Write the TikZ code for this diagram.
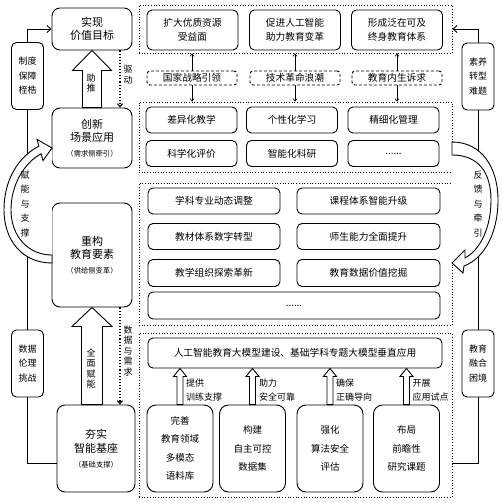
\documentclass[tikz,border=0pt]{standalone}
\usepackage{fontspec}
\setmainfont{Noto Sans CJK SC}
\usetikzlibrary{arrows.meta,calc}
\newcommand{\mysub}{\fontsize{7.3}{9}\selectfont}
\newcommand{\blockup}[5]{%
  \draw[blockarrow] let \p1=(#1), \p2=(#2) in
    (\x2-#3pt,\y1) -- (\x2-#3pt,\y2-#5pt) -- (\x2-#4pt,\y2-#5pt) -- (\x2,\y2)
    -- (\x2+#4pt,\y2-#5pt) -- (\x2+#3pt,\y2-#5pt) -- (\x2+#3pt,\y1) -- cycle;}
\tikzset{
  mainbox/.style={draw, line width=0.9pt, rounded corners=8pt, align=center, inner sep=0pt, font=\fontsize{11}{13.5}\selectfont},
  sidebox/.style={draw, line width=0.9pt, rounded corners=5pt, align=center, inner sep=0pt, font=\fontsize{9}{14.5}\selectfont, minimum width=32, minimum height=67},
  container/.style={draw, dotted, line width=0.7pt, inner sep=0pt},
  itembox/.style={draw, line width=0.9pt, rounded corners=5pt, align=center, inner sep=0pt, font=\fontsize{9.7}{14}\selectfont},
  basebox/.style={draw, line width=0.9pt, rounded corners=9pt, align=center, inner sep=0pt, font=\fontsize{9.5}{18.3}\selectfont, minimum width=66, minimum height=87},
  tagbox/.style={draw, dashed, dash pattern=on 3pt off 2pt, line width=0.9pt, rounded corners=3pt, inner sep=0pt, font=\fontsize{9.7}{11}\selectfont, minimum width=90, minimum height=14},
  vlabel/.style={align=center, inner sep=0pt, font=\fontsize{9}{10.5}\selectfont},
  vlabelwide/.style={align=center, inner sep=0pt, font=\fontsize{9}{14.5}\selectfont},
  alabel/.style={align=left, inner sep=0pt, anchor=west, font=\fontsize{9}{14}\selectfont},
  conn/.style={line width=0.9pt},
  connarrow/.style={line width=0.9pt, -{Straight Barb[length=4pt,width=7pt]}},
  thinarrow/.style={line width=0.6pt, {Straight Barb[length=2.5pt,width=4pt]}-},
  dotarrow/.style={line width=1.1pt, dotted, -{Straight Barb[length=3pt,width=5pt]}},
  blockarrow/.style={draw, fill=white, line width=0.9pt, line join=miter},
  crescent/.style={draw, fill=white, line width=0.9pt, line join=miter}
}
\begin{document}
\begin{tikzpicture}[x=1pt,y=-1pt]
\fill[white] (0,0) rectangle (501,503);
\path[use as bounding box] (0,0) rectangle (501,503);

% left column main boxes
\node[mainbox, minimum width=80, minimum height=42] (goal) at (92,29) {实现\\价值目标};
\node[mainbox, minimum width=80, minimum height=60] (innov) at (92,138) {创新\\场景应用\\[1.5pt]{\mysub （需求侧牵引）}};
\node[mainbox, minimum width=80, minimum height=104] (elem) at (92,255) {重构\\教育要素\\[1.5pt]{\mysub （供给侧变革）}};
\node[mainbox, minimum width=78, minimum height=87] (base) at (96,448.5) {夯实\\智能基座\\[1.5pt]{\mysub （基础支撑）}};

% side boxes
\node[sidebox] (inst) at (27.5,76) {制度\\保障\\桎梏};
\node[sidebox] (ethic) at (27.5,363.5) {数据\\伦理\\挑战};
\node[sidebox] (lit) at (478,76.5) {素养\\转型\\难题};
\node[sidebox] (fus) at (478,363.5) {教育\\融合\\困境};

% containers
\node[container, minimum width=313, minimum height=48] (top) at (295.5,29) {};
\node[container, minimum width=313, minimum height=70] (scen) at (295.5,137) {};
\node[container, minimum width=313, minimum height=142] (elems) at (295.5,254) {};
\node[container, minimum width=313, minimum height=164] (found) at (295.5,415) {};

% top goals
\node[itembox, minimum width=91, minimum height=40] (t1) at (192.5,30) {扩大优质资源\\受益面};
\node[itembox, minimum width=91, minimum height=40] (t2) at (295,30) {促进人工智能\\助力教育变革};
\node[itembox, minimum width=91, minimum height=40] (t3) at (397,30) {形成泛在可及\\终身教育体系};

% drivers
\node[tagbox] (g1) at (192,78) {国家战略引领};
\node[tagbox] (g2) at (295,78) {技术革命浪潮};
\node[tagbox] (g3) at (397,78) {教育内生诉求};

% scenes
\node[itembox, minimum width=91, minimum height=26] (s1) at (191.5,120) {差异化教学};
\node[itembox, minimum width=91, minimum height=26] (s2) at (292,120) {个性化学习};
\node[itembox, minimum width=91, minimum height=26] (s3) at (393.5,120) {精细化管理};
\node[itembox, minimum width=91, minimum height=26] (s4) at (191.5,153.5) {科学化评价};
\node[itembox, minimum width=91, minimum height=26] (s5) at (292,153.5) {智能化科研};
\node[itembox, minimum width=91, minimum height=26] (s6) at (393.5,153.5) {......};

% elements
\node[itembox, minimum width=132, minimum height=26] (e1) at (214,201) {学科专业动态调整};
\node[itembox, minimum width=143, minimum height=26] (e2) at (368.5,201) {课程体系智能升级};
\node[itembox, minimum width=132, minimum height=26] (e3) at (214,236.5) {教材体系数字转型};
\node[itembox, minimum width=143, minimum height=26] (e4) at (368.5,236.5) {师生能力全面提升};
\node[itembox, minimum width=132, minimum height=27] (e5) at (214,273) {教学组织探索革新};
\node[itembox, minimum width=143, minimum height=27] (e6) at (368.5,273) {教育数据价值挖掘};
\node[itembox, minimum width=292, minimum height=27] (e7) at (294,305.5) {......};

% foundation
\node[itembox, minimum width=294, minimum height=30] (big) at (295,353) {人工智能教育大模型建设、基础学科专题大模型垂直应用};
\node[basebox] (b1) at (180,448.5) {完善\\教育领域\\多模态\\语料库};
\node[basebox] (b2) at (252.5,448.5) {构建\\自主可控\\数据集};
\node[basebox] (b3) at (330,448.5) {强化\\算法安全\\评估};
\node[basebox] (b4) at (406.5,448.5) {布局\\前瞻性\\研究课题};

% side connectors
\draw[connarrow] (inst.north) |- (goal.west);
\draw[conn] (inst.south) -- (ethic.north);
\draw[conn] (ethic.south) |- ([yshift=-14.5pt]base.west);
\draw[connarrow] (lit.north) |- (top.east);
\draw[conn] (lit.south) -- (fus.north);
\draw[conn] (fus.south) |- ([yshift=-48pt]found.east);

% driver arrows
\foreach \g in {g1,g2,g3} {
  \draw[thinarrow] (\g.north |- top.south) -- (\g.north);
  \draw[thinarrow] (\g.south |- scen.north) -- (\g.south);
}

% block arrows
\blockup{goal.south |- innov.north}{goal.south}{9.5}{19.5}{20}
\blockup{elem.south |- base.north}{elem.south}{10.5}{20}{19}
\foreach \b in {b1,b2,b3,b4} {
  \blockup{\b.north}{\b.north |- big.south}{3}{6.5}{8}
}

% dotted arrows
\draw[dotarrow] ([xshift=28pt]goal.south) -- ([xshift=28pt]goal.south |- innov.north);
\draw[dotarrow] ([xshift=28pt]elem.south) -- ([xshift=28pt]elem.south |- base.north);

% crescent arrows
\fill[white] (41.1,153.8) .. controls (24,163) and (11,185) .. (11,210) .. controls (11,236) and (28,255) .. (52,255) -- (52,150) -- cycle;
\draw[crescent] (52,263) .. controls (22,263) and (4,240) .. (4,210) .. controls (4,180) and (18,157) .. (38.9,146.2) -- (37,139.4) -- (52,148) -- (43,160.6) -- (41.1,153.8) .. controls (24,163) and (11,185) .. (11,210) .. controls (11,236) and (28,255) .. (52,255) -- cycle;
\fill[white] (465,258) .. controls (480,250) and (491,228) .. (491,200) .. controls (491,172) and (478,155) .. (452,155) -- (452,262) -- cycle;
\draw[crescent] (452,142) .. controls (482,142) and (498,168) .. (498,200) .. controls (498,232) and (485,258) .. (464,266) -- (463,273) -- (452,263) -- (465,250) -- (465,258) .. controls (480,250) and (491,228) .. (491,200) .. controls (491,172) and (478,155) .. (452,155) -- cycle;

% labels
\node[vlabel] (lpush) at (91,83) {助\\推};
\node[vlabel] (ldrive) at (128,75) {驱\\动};
\node[vlabel] (lfull) at (91,368.5) {全\\面\\赋\\能};
\node[vlabel] (ldata) at (128,351) {数\\据\\与\\需\\求};
\node[vlabelwide] (lsup) at (25,204) {赋\\能\\与\\支\\撑};
\node[vlabelwide] (lfb) at (478,204) {反\\馈\\与\\牵\\引};
\node[alabel] (a1) at (186,390) {提供\\训练支撑};
\node[alabel] (a2) at (259,390) {助力\\安全可靠};
\node[alabel] (a3) at (336,390) {确保\\正确导向};
\node[alabel] (a4) at (412.5,390) {开展\\应用试点};
\end{tikzpicture}
\end{document}
